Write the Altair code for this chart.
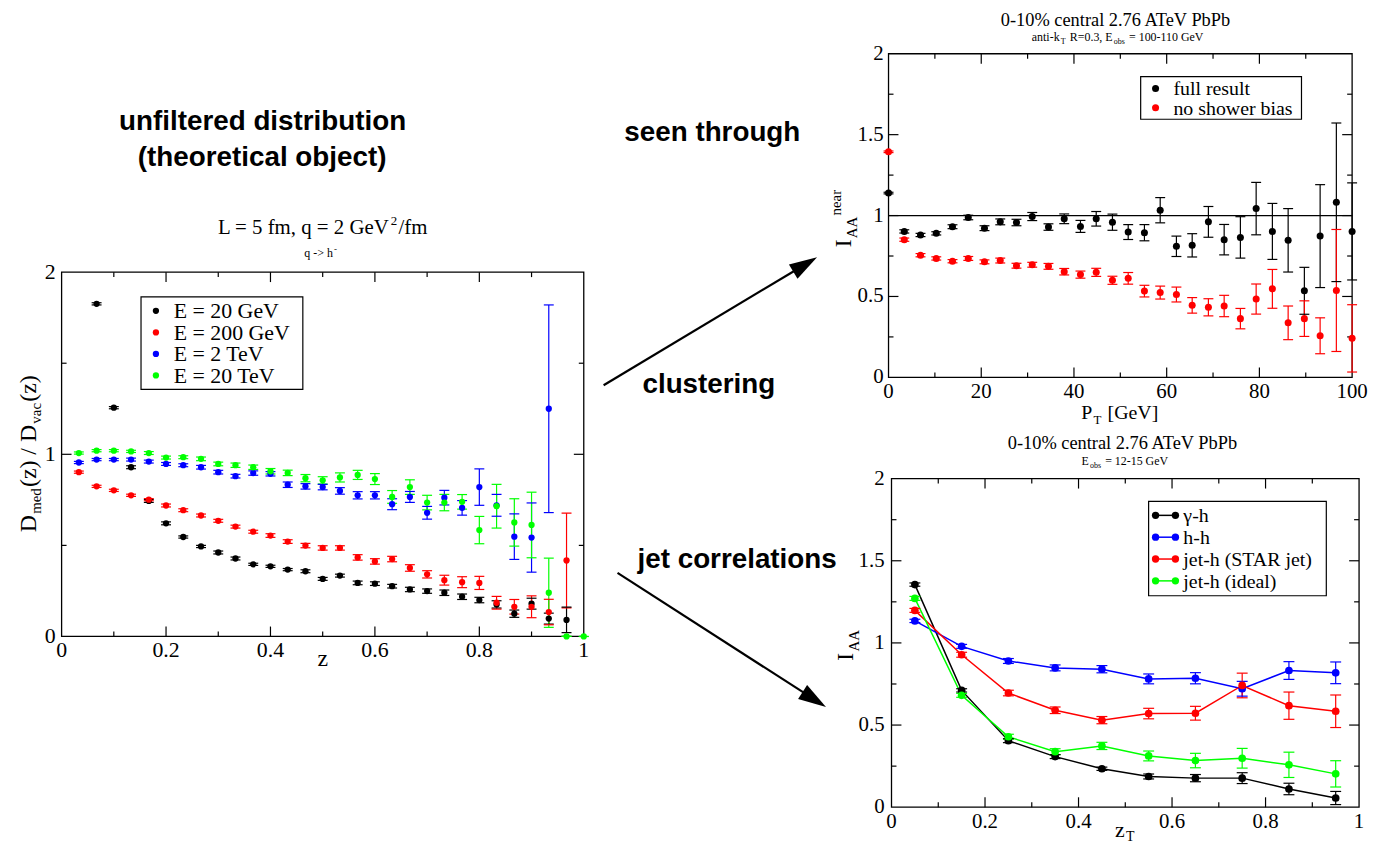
import math
import altair as alt
import pandas as pd

SERIF = "Liberation Serif"
SANS = "Liberation Sans"

# ---------------- left panel: D_med / D_vac vs z ----------------
left_z = [0.033, 0.067, 0.1, 0.133, 0.167, 0.2, 0.233, 0.267, 0.3, 0.333,
          0.367, 0.4, 0.433, 0.467, 0.5, 0.533, 0.567, 0.6, 0.633, 0.667,
          0.7, 0.733, 0.767, 0.8, 0.833, 0.867, 0.9, 0.933, 0.967, 1.0]
left_series = ["E = 20 GeV", "E = 200 GeV", "E = 2 TeV", "E = 20 TeV"]
left_colors = ["#000000", "#ff0000", "#0000ff", "#00ff00"]
e20gev_y = [None, 1.826, 1.256, 0.929, 0.744, 0.621, 0.546, 0.494, 0.461, 0.428,
            0.396, 0.385, 0.367, 0.358, 0.316, 0.334, 0.294, 0.290, 0.276, 0.258,
            0.249, 0.240, 0.218, 0.200, 0.176, 0.125, 0.180, 0.098, 0.091, None]
e20gev_err = [None, 0.006, 0.006, 0.008, 0.008, 0.008, 0.006, 0.006, 0.008, 0.008,
              0.006, 0.006, 0.006, 0.008, 0.008, 0.008, 0.010, 0.010, 0.010, 0.012,
              0.012, 0.015, 0.015, 0.015, 0.020, 0.020, 0.030, 0.030, 0.070, None]
e200gev_y = [0.902, 0.824, 0.802, 0.775, 0.751, 0.719, 0.693, 0.664, 0.635, 0.603,
             0.575, 0.554, 0.521, 0.499, 0.486, 0.486, 0.434, 0.412, 0.425, 0.376,
             0.341, 0.309, 0.298, 0.294, 0.185, 0.163, 0.163, 0.134, 0.417, None]
e200gev_err = [0.006, 0.006, 0.006, 0.006, 0.006, 0.008, 0.008, 0.008, 0.008, 0.008,
               0.008, 0.010, 0.010, 0.012, 0.012, 0.012, 0.015, 0.015, 0.015, 0.018,
               0.020, 0.027, 0.030, 0.036, 0.035, 0.040, 0.060, 0.070, 0.260, None]
e2tev_y = [0.955, 0.971, 0.971, 0.971, 0.960, 0.947, 0.940, 0.929, 0.902, 0.880,
           0.897, 0.893, 0.833, 0.824, 0.820, 0.799, 0.775, 0.775, 0.726, 0.766,
           0.679, 0.762, 0.706, 0.820, 0.720, 0.548, 0.543, 1.250, None, None]
e2tev_err = [0.006, 0.006, 0.006, 0.008, 0.008, 0.008, 0.008, 0.010, 0.010, 0.010,
             0.012, 0.012, 0.015, 0.015, 0.015, 0.018, 0.020, 0.020, 0.030, 0.030,
             0.035, 0.040, 0.040, 0.100, 0.060, 0.125, 0.190, 0.570, None, None]
e20tev_y = [1.007, 1.020, 1.020, 1.016, 1.007, 0.982, 0.984, 0.975, 0.947, 0.940,
            0.929, 0.907, 0.898, 0.869, 0.857, 0.873, 0.887, 0.864, 0.766, 0.820,
            0.735, 0.735, 0.739, 0.584, 0.715, 0.626, 0.612, 0.240, 0.0, 0.0]
e20tev_err = [0.006, 0.006, 0.006, 0.006, 0.008, 0.008, 0.008, 0.010, 0.010, 0.012,
              0.012, 0.015, 0.015, 0.020, 0.020, 0.025, 0.025, 0.030, 0.035, 0.040,
              0.040, 0.045, 0.040, 0.075, 0.120, 0.130, 0.180, 0.190, 0.0, 0.0]

# ---------------- top-right panel: I_AA^near vs P_T ----------------
tr_pt = [0, 3.4, 6.9, 10.3, 13.8, 17.2, 20.7, 24.1, 27.6, 31.0,
         34.5, 37.9, 41.4, 44.8, 48.3, 51.7, 55.2, 58.6, 62.1, 65.5,
         69.0, 72.4, 75.9, 79.3, 82.8, 86.2, 89.7, 93.1, 96.6, 100]
tr_series = ["full result", "no shower bias"]
tr_colors = ["#000000", "#ff0000"]
full_y = [1.139, 0.902, 0.880, 0.890, 0.931, 0.988, 0.922, 0.961, 0.957, 0.994,
          0.929, 0.980, 0.933, 0.980, 0.959, 0.898, 0.894, 1.033, 0.810, 0.816,
          0.961, 0.851, 0.865, 1.043, 0.902, 0.847, 0.535, 0.873, 1.082, 0.902]
full_err = [0.005, 0.010, 0.010, 0.010, 0.012, 0.014, 0.015, 0.018, 0.020, 0.025,
            0.020, 0.030, 0.037, 0.045, 0.050, 0.046, 0.050, 0.078, 0.063, 0.072,
            0.095, 0.094, 0.128, 0.162, 0.173, 0.196, 0.145, 0.318, 0.490, 0.300]
noshower_y = [1.394, 0.851, 0.755, 0.735, 0.718, 0.735, 0.714, 0.722, 0.690, 0.696,
              0.686, 0.653, 0.635, 0.649, 0.600, 0.612, 0.533, 0.524, 0.512, 0.445,
              0.433, 0.441, 0.363, 0.484, 0.547, 0.337, 0.363, 0.257, 0.537, 0.241]
noshower_err = [0.005, 0.010, 0.010, 0.010, 0.010, 0.012, 0.012, 0.015, 0.015, 0.015,
                0.018, 0.020, 0.022, 0.025, 0.025, 0.036, 0.036, 0.040, 0.046, 0.048,
                0.053, 0.066, 0.063, 0.093, 0.120, 0.104, 0.110, 0.111, 0.377, 0.208]
tr_ref_line = [1.0]

# ---------------- bottom-right panel: I_AA vs z_T ----------------
br_zt = [0.05, 0.15, 0.25, 0.35, 0.45, 0.55, 0.65, 0.75, 0.85, 0.95]
br_series = ["γ-h", "h-h", "jet-h (STAR jet)", "jet-h (ideal)"]
br_colors = ["#000000", "#0000ff", "#ff0000", "#00ff00"]
gh_y = [1.355, 0.711, 0.405, 0.308, 0.234, 0.187, 0.177, 0.177, 0.111, 0.056]
gh_err = [0.010, 0.010, 0.012, 0.012, 0.010, 0.015, 0.022, 0.033, 0.035, 0.040]
hh_y = [1.134, 0.979, 0.890, 0.848, 0.840, 0.781, 0.785, 0.721, 0.832, 0.818]
hh_err = [0.010, 0.012, 0.015, 0.018, 0.022, 0.030, 0.034, 0.045, 0.054, 0.066]
star_y = [1.198, 0.928, 0.695, 0.590, 0.530, 0.570, 0.572, 0.741, 0.618, 0.584]
star_err = [0.012, 0.015, 0.017, 0.020, 0.022, 0.032, 0.042, 0.075, 0.083, 0.099]
ideal_y = [1.271, 0.681, 0.429, 0.338, 0.373, 0.312, 0.284, 0.298, 0.258, 0.203]
ideal_err = [0.012, 0.012, 0.015, 0.018, 0.022, 0.030, 0.044, 0.060, 0.077, 0.080]

# ---------------- axis ticks and labels ----------------
left_x_labels = [0, 0.2, 0.4, 0.6, 0.8, 1]
left_y_labels = [0, 1, 2]
left_x_major = [0.2, 0.4, 0.6, 0.8]
left_x_minor = [0.1, 0.3, 0.5, 0.7, 0.9]
left_y_major = [1]
left_y_minor = [0.5, 1.5]
tr_x_labels = [0, 20, 40, 60, 80, 100]
tr_y_labels = [0, 0.5, 1, 1.5, 2]
tr_x_major = [20, 40, 60, 80]
tr_x_minor = [10, 30, 50, 70, 90]
r_y_major = [0.5, 1, 1.5]
r_y_minor = [0.25, 0.75, 1.25, 1.75]
br_x_labels = [0, 0.2, 0.4, 0.6, 0.8, 1]

# ---------------- helpers ----------------
CW = {' ': .25, '(': .333, ')': .333, ',': .25, '-': .333, '.': .25, '/': .278,
      '=': .564, '>': .564, '[': .333, ']': .333, '%': .833,
      'A': .722, 'D': .722, 'E': .611, 'G': .722, 'I': .333, 'L': .611, 'P': .556,
      'R': .667, 'S': .556, 'T': .611, 'V': .722,
      'a': .444, 'b': .5, 'c': .444, 'd': .5, 'e': .444, 'f': .333, 'h': .5,
      'i': .278, 'j': .278, 'k': .5, 'l': .278, 'm': .778, 'n': .5, 'o': .5,
      'q': .5, 'r': .333, 's': .389, 't': .278, 'v': .5, 'z': .444}
GAP = 1.2


def tw(s, size):
    return sum(CW.get(c, 0.5) for c in s) * size


def one_row():
    return alt.Data(values=[{"k": 0}])


def txt(s, px, py, size, angle=0, align="left", font=SERIF, weight=None, color="black"):
    kw = dict(text=s, fontSize=size, font=font, align=align, baseline="alphabetic", color=color)
    if angle:
        kw["angle"] = angle
    if weight:
        kw["fontWeight"] = weight
    return alt.Chart(one_row()).mark_text(**kw).encode(x=alt.value(px), y=alt.value(py))


def rich(segs, cx, cy, angle=0):
    total = sum(tw(t, s) for t, s, _ in segs) + GAP * (len(segs) - 1)
    pos = -total / 2
    out = []
    for t, s, sh in segs:
        lead = len(t) - len(t.lstrip(' '))
        core = t.strip(' ')
        p = pos + tw(' ' * lead, s)
        if angle == 0:
            out.append(txt(core, cx + p, cy + sh, s))
        else:
            out.append(txt(core, cx + sh, cy - p, s, angle=270))
        pos += tw(t, s) + GAP
    return out


def long_df(xs, names, ys_list, errs_list):
    rows = []
    for name, ys, es in zip(names, ys_list, errs_list):
        for x, y, e in zip(xs, ys, es):
            if y is None:
                continue
            rows.append({"s": name, "x": x, "y": y, "lo": y - e, "hi": y + e})
    return pd.DataFrame(rows)


def frame_ticks(sx, sy, x_left, x_right, y_top, y_bot, xmaj, xmin, ymaj, ymin):
    out = []
    for vals, L in ((xmaj, 10), (xmin, 5)):
        b = alt.Chart(pd.DataFrame({"v": vals})).mark_rule(color="black", strokeWidth=1.2)
        X = alt.X("v:Q", scale=sx, axis=None)
        out.append(b.encode(x=X, y=alt.value(y_bot), y2=alt.value(y_bot - L)))
        out.append(b.encode(x=X, y=alt.value(y_top), y2=alt.value(y_top + L)))
    for vals, L in ((ymaj, 10), (ymin, 5)):
        b = alt.Chart(pd.DataFrame({"v": vals})).mark_rule(color="black", strokeWidth=1.2)
        Y = alt.Y("v:Q", scale=sy, axis=None)
        out.append(b.encode(y=Y, x=alt.value(x_left), x2=alt.value(x_left + L)))
        out.append(b.encode(y=Y, x=alt.value(x_right), x2=alt.value(x_right - L)))
    return out


def tick_labels(sx, sy, xvals, yvals, y_base, x_at, size):
    xl = alt.Chart(pd.DataFrame({"v": xvals, "t": [f"{v:g}" for v in xvals]})).mark_text(
        font=SERIF, fontSize=size, baseline="top", align="center", color="black").encode(
        x=alt.X("v:Q", scale=sx, axis=None), y=alt.value(y_base), text="t:N")
    yl = alt.Chart(pd.DataFrame({"v": yvals, "t": [f"{v:g}" for v in yvals]})).mark_text(
        font=SERIF, fontSize=size, baseline="middle", align="right", color="black").encode(
        y=alt.Y("v:Q", scale=sy, axis=None), x=alt.value(x_at), text="t:N")
    return [xl, yl]


def data_layers(df, names, colors, sx, sy, cap, ptsize, lines=False):
    col = alt.Color("s:N", scale=alt.Scale(domain=names, range=colors), legend=None)
    X0 = alt.X("x:Q", scale=sx, axis=None)
    base = alt.Chart(df)
    out = []
    if lines:
        out.append(base.mark_line(strokeWidth=1.5).encode(
            x=X0, y=alt.Y("y:Q", scale=sy, axis=None), color=col, order="x:Q"))
    out.append(base.mark_rule(strokeWidth=1.2).encode(
        x=X0, y=alt.Y("lo:Q", scale=sy, axis=None), y2="hi:Q", color=col))
    for f in ("lo", "hi"):
        out.append(base.mark_tick(orient="horizontal", size=cap, thickness=1.2, opacity=1).encode(
            x=X0, y=alt.Y(f + ":Q", scale=sy, axis=None), color=col))
    out.append(base.mark_circle(size=ptsize, opacity=1).encode(
        x=X0, y=alt.Y("y:Q", scale=sy, axis=None), color=col))
    return out


def box(x1, y1, x2, y2, fill="white", fill_opacity=1, width=1.2):
    return alt.Chart(one_row()).mark_rect(fill=fill, fillOpacity=fill_opacity, stroke="black",
                                          strokeWidth=width).encode(
        x=alt.value(x1), x2=alt.value(x2), y=alt.value(y1), y2=alt.value(y2))


def dot(px, py, color, size):
    return alt.Chart(one_row()).mark_circle(size=size, opacity=1, color=color).encode(
        x=alt.value(px), y=alt.value(py))


def seg(x1, y1, x2, y2, color="black", width=1.5):
    return alt.Chart(one_row()).mark_rule(color=color, strokeWidth=width).encode(
        x=alt.value(x1), x2=alt.value(x2), y=alt.value(y1), y2=alt.value(y2))


def arrow(x1, y1, x2, y2, head=28):
    ang = math.degrees(math.atan2(y2 - y1, x2 - x1))
    r = head / 2
    ex = x2 - 0.8 * head * math.cos(math.radians(ang))
    ey = y2 - 0.8 * head * math.sin(math.radians(ang))
    shaft = seg(x1, y1, ex, ey, width=2.2)
    tip = alt.Chart(one_row()).mark_point(
        shape="M0,0L-2,-0.6L-2,0.6Z", size=4 * r * r, angle=ang % 360,
        filled=True, opacity=1, color="black").encode(x=alt.value(x2), y=alt.value(y2))
    return [shaft, tip]


# ---------------- left cell: headings, arrows and the left panel ----------------
CELL_W, CELL_H = 526, 331
PT, PB = 220, 587          # left panel frame top/bottom inside the cell
lsx = alt.Scale(domain=[0, 1], nice=False, zero=False)
lsy = alt.Scale(domain=[0, 2], nice=False, zero=False, range=[PB, PT])
left_df = long_df(left_z, left_series, [e20gev_y, e200gev_y, e2tev_y, e20tev_y],
                  [e20gev_err, e200gev_err, e2tev_err, e20tev_err])

L = [alt.Chart(one_row()).mark_rule(strokeOpacity=0).encode(
    x=alt.value(-54), x2=alt.value(-53), y=alt.value(-42), y2=alt.value(-42))]
for s, cx, by in (("unfiltered distribution", 202.5, 77), ("(theoretical object)", 202, 113),
                  ("seen through", 655.5, 88), ("clustering", 652, 342),
                  ("jet correlations", 680.5, 518)):
    L.append(txt(s, cx, by, 28, align="center", font=SANS, weight="bold"))
L += arrow(546, 334, 761, 205)
L += arrow(560, 523, 770, 658)
L.append(box(0, PT, CELL_W, PB, fill="white", fill_opacity=0, width=1.3))
L += frame_ticks(lsx, lsy, 0, CELL_W, PT, PB, left_x_major, left_x_minor, left_y_major, left_y_minor)
L += tick_labels(lsx, lsy, left_x_labels, left_y_labels, PB + 4, -6, 22)
L += data_layers(left_df, left_series, left_colors, lsx, lsy, 10, 40)
L += rich([("L = 5 fm, q = 2 GeV", 21, 0), ("2", 13, -9), ("/fm", 21, 0)], 263, PT - 38)
L += rich([("q -> h", 12, 0), ("-", 9, -5)], 261, PT - 15)
L += rich([("z", 24, 0)], 263, PB + 30)
L += rich([("D", 24, 0), ("med", 15, 5), ("(z) / D", 24, 0), ("vac", 15, 5), ("(z)", 24, 0)],
          -26, PT + 183, angle=270)
L.append(box(80, PT + 25, 243, PT + 118))
for i, (name, c) in enumerate(zip(left_series, left_colors)):
    yc = PT + 39 + i * 21.7
    L.append(dot(95, yc, c, 40))
    L.append(txt(name, 113, yc + 7.5, 22))
left_cell = alt.layer(*L).properties(width=CELL_W, height=CELL_H,
                                     view=alt.ViewBackground(stroke="transparent"))

# ---------------- top-right panel ----------------
TW_, TH = 467, 331
TPH = 326
tsx = alt.Scale(domain=[0, 100], nice=False, zero=False, range=[0, TW_])
tsy = alt.Scale(domain=[0, 2], nice=False, zero=False, range=[TPH, 0])
tr_df = long_df(tr_pt, tr_series, [full_y, noshower_y], [full_err, noshower_err])
T = [box(0, 0, TW_, TPH, fill="white", fill_opacity=0, width=1.3)]
T += frame_ticks(tsx, tsy, 0, TW_, 0, TPH, tr_x_major, tr_x_minor, r_y_major, r_y_minor)
T += tick_labels(tsx, tsy, tr_x_labels, tr_y_labels, TPH + 4, -5, 21)
T.append(alt.Chart(pd.DataFrame({"v": tr_ref_line})).mark_rule(color="black", strokeWidth=1.3)
         .encode(y=alt.Y("v:Q", scale=tsy, axis=None), x=alt.value(0), x2=alt.value(TW_)))
T += data_layers(tr_df, tr_series, tr_colors, tsx, tsy, 10, 50)
T += rich([("0-10% central 2.76 ATeV PbPb", 18.5, 0)], 231, -28)
T += rich([("anti-k", 12, 0), ("T", 8, 3), (" R=0.3, E", 12, 0), ("obs", 8, 3),
           (" = 100-110 GeV", 12, 0)], 231, -13)
T += rich([("P", 20, 0), ("T", 13, 5), (" [GeV]", 20, 0)], 233, 368)
T += rich([("I", 24, 0), ("AA", 15, 6), ("near", 15, -10)], -38, 166, angle=270)
T.append(box(254, 23, 416, 66))
for i, (name, c) in enumerate(zip(tr_series, tr_colors)):
    yc = 35 + i * 19.5
    T.append(dot(269, yc, c, 50))
    T.append(txt(name, 287, yc + 7, 20))
tr_panel = alt.layer(*T).properties(width=TW_, height=TH,
                                    view=alt.ViewBackground(stroke="transparent"))

# ---------------- blank cell ----------------
blank = alt.Chart(one_row()).mark_rule(strokeOpacity=0).encode(
    x=alt.value(0), x2=alt.value(1), y=alt.value(0), y2=alt.value(0)).properties(
    width=CELL_W, height=CELL_H, view=alt.ViewBackground(stroke="transparent"))

# ---------------- bottom-right panel ----------------
BX0, BW, BH = 3, 471, 331
bsx = alt.Scale(domain=[0, 1], nice=False, zero=False, range=[BX0, BX0 + BW])
bsy = alt.Scale(domain=[0, 2], nice=False, zero=False, range=[BH, 0])
br_df = long_df(br_zt, br_series, [gh_y, hh_y, star_y, ideal_y], [gh_err, hh_err, star_err, ideal_err])
B = [box(BX0, 0, BX0 + BW, BH, fill="white", fill_opacity=0, width=1.3)]
B += frame_ticks(bsx, bsy, BX0, BX0 + BW, 0, BH, left_x_major, left_x_minor, r_y_major, r_y_minor)
B += tick_labels(bsx, bsy, br_x_labels, tr_y_labels, BH + 4, BX0 - 7, 21)
B += data_layers(br_df, br_series, br_colors, bsx, bsy, 11, 60, lines=True)
B += rich([("0-10% central 2.76 ATeV PbPb", 18.5, 0)], BX0 + 235, -30)
B += rich([("E", 12, 0), ("obs", 8, 3), (" = 12-15 GeV", 12, 0)], BX0 + 235, -14)
B += rich([("z", 22, 0), ("T", 14, 4)], BX0 + 235, 361)
B += rich([("I", 24, 0), ("AA", 15, 6)], BX0 - 39, 168, angle=270)
B.append(box(BX0 + 259, 23, BX0 + 438, 118))
for i, (name, c) in enumerate(zip(br_series, br_colors)):
    yc = 37 + i * 22
    B.append(seg(BX0 + 266, yc, BX0 + 286, yc, color=c, width=1.5))
    B.append(dot(BX0 + 266, yc, c, 55))
    B.append(dot(BX0 + 286, yc, c, 55))
    B.append(txt(name, BX0 + 294, yc + 7, 20))
br_panel = alt.layer(*B).properties(width=BX0 + BW, height=BH,
                                    view=alt.ViewBackground(stroke="transparent"))

chart = alt.concat(left_cell, tr_panel, blank, br_panel, columns=2, align="each",
                   bounds="flush", spacing={"row": 97, "column": 307})
chart = chart.resolve_scale(x="independent", y="independent", color="independent")
chart = chart.properties(padding=0, background="white").configure_view(strokeWidth=0)
chart.save("out.html", embed_options={"renderer": "svg", "actions": False})
